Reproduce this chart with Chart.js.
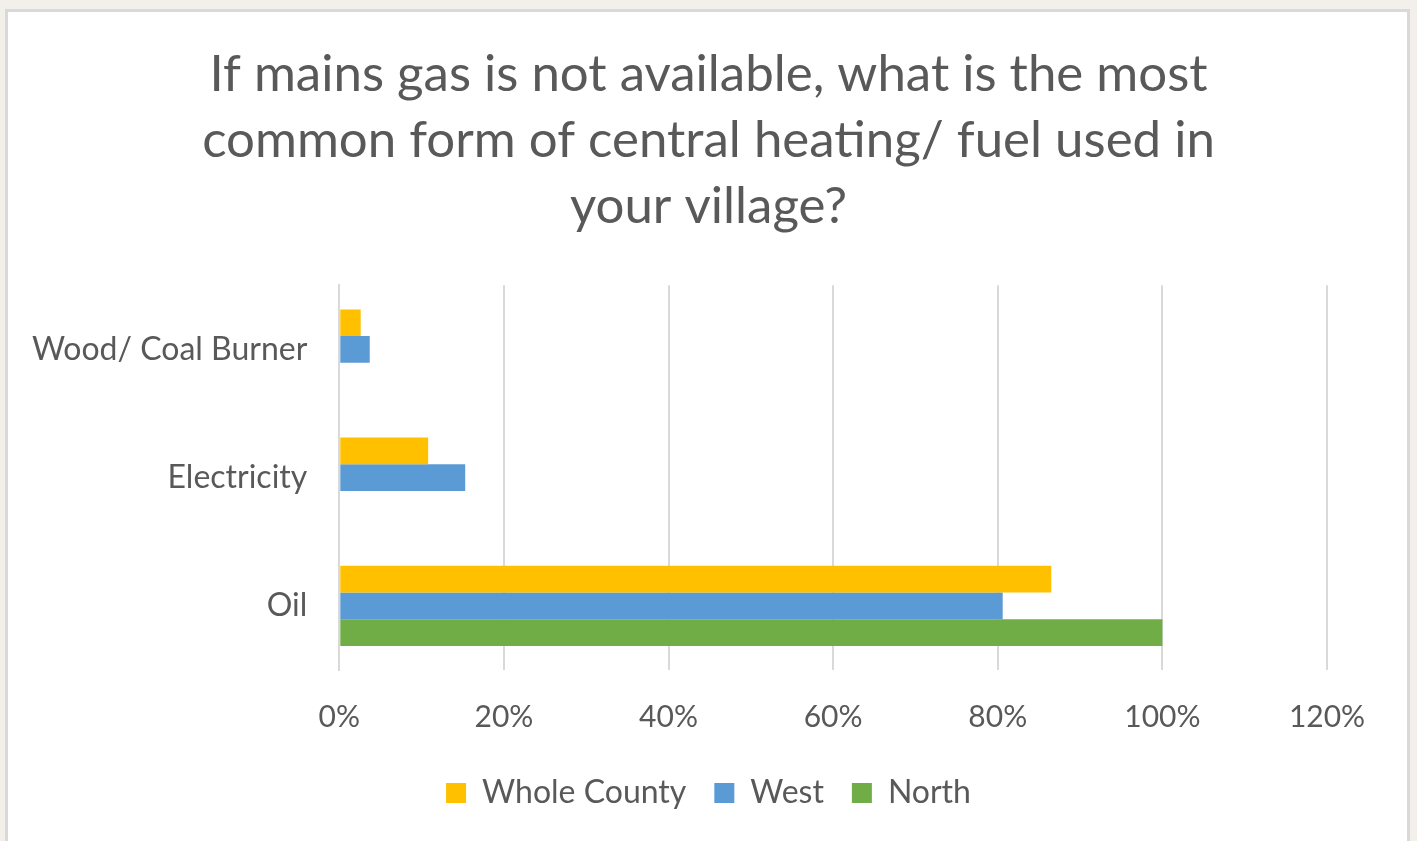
<!DOCTYPE html>
<html><head><meta charset="utf-8">
<script src="https://cdn.jsdelivr.net/npm/chart.js@4"></script>
<style>
html,body{margin:0;padding:0;background:#f3f0eb;width:1417px;height:841px;overflow:hidden;}
#panel{position:absolute;left:5px;top:9px;width:1399px;height:840px;background:#fff;border:3px solid #d9d9d9;border-bottom:none;}
#wrap{position:absolute;left:0;top:0;width:1417px;height:841px;}
</style></head>
<body>
<div id="panel"></div>
<div id="wrap"><canvas id="c" width="1417" height="841"></canvas></div>
<script>
const titleLines = ["If mains gas is not available, what is the most", "common form of central heating/ fuel used in", "your village?"];
const categories = ["Wood/ Coal Burner", "Electricity", "Oil"];
const seriesNames = ["Whole County", "West", "North"];
const wholeCounty = [2.6, 10.8, 86.5];
const west = [3.7, 15.3, 80.6];
const north = [0, 0, 100];
const colors = ["#FFC000", "#5B9BD5", "#70AD47"];
const FONT = "Lato, 'Open Sans', sans-serif";
const GREY = "#595959";

new Chart(document.getElementById('c'), {
  type: 'bar',
  data: {
    labels: categories,
    datasets: [wholeCounty, west, north].map((d, i) => ({
      label: seriesNames[i], data: d, backgroundColor: colors[i], borderWidth: 0
    }))
  },
  options: {
    indexAxis: 'y',
    responsive: false,
    animation: false,
    devicePixelRatio: 1,
    layout: { padding: { left: 0, right: 0, top: 42, bottom: 22 } },
    datasets: { bar: { barPercentage: 1, categoryPercentage: 0.625 } },
    scales: {
      x: {
        min: 0, max: 120,
        ticks: { stepSize: 20, callback: v => v + '%', color: GREY, font: { family: FONT, size: 30 }, padding: 29 },
        grid: { color: '#d9d9d9', lineWidth: 2, drawTicks: false },
        border: { display: false },
        afterFit: s => { s.height = 79; s.paddingRight = 90; }
      },
      y: {
        ticks: { color: GREY, font: { family: FONT, size: 32 }, padding: 32 },
        grid: { display: false, drawTicks: false },
        border: { display: true, color: '#d9d9d9', width: 2 }
      }
    },
    plugins: {
      title: { display: true, text: titleLines, color: GREY, font: { family: FONT, size: 51, weight: 'normal', lineHeight: 1.29 }, padding: { top: 0, bottom: 46 } },
      legend: { position: 'bottom', labels: { color: GREY, font: { family: FONT, size: 32 }, boxWidth: 20, boxHeight: 20, padding: 28 } },
      tooltip: { enabled: false }
    }
  }
});
</script>
</body></html>
